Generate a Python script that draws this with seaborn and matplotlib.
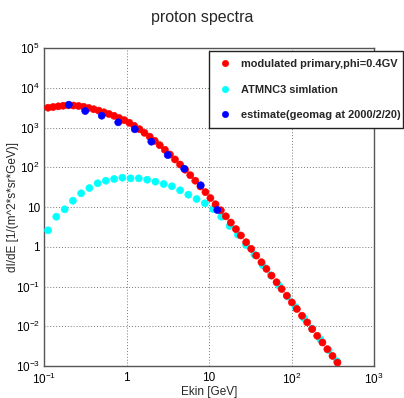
import numpy as np
import pandas as pd
import matplotlib
matplotlib.use("Agg")
import matplotlib.pyplot as plt
import seaborn as sns
from matplotlib.ticker import FixedLocator, FixedFormatter, LogLocator, NullFormatter

# ---------------- data ----------------
title = "proton spectra"
x_label = "Ekin [GeV]"
y_label = "dI/dE [1/(m^2*s*sr*GeV)]"

series_names = ["modulated primary,phi=0.4GV",
                "ATMNC3 simlation",
                "estimate(geomag at 2000/2/20)"]
series_colors = ["#ff0000", "#00ffff", "#0000ff"]

primary_E = [0.112, 0.129, 0.149, 0.171, 0.197, 0.227, 0.262, 0.302, 0.348, 0.401,
             0.461, 0.532, 0.612, 0.706, 0.815, 0.938, 1.08, 1.24, 1.44, 1.65,
             1.91, 2.20, 2.53, 2.92, 3.36, 3.87, 4.46, 5.14, 5.93, 6.82,
             7.87, 9.06, 10.4, 12.0, 13.9, 16.0, 18.4, 21.2, 24.4, 28.2,
             32.5, 37.4, 43.2, 49.7, 57.3, 65.9, 76.0, 87.7, 101, 116,
             134, 155, 178, 205, 237, 272, 314, 361]
primary_flux = [3150, 3280, 3410, 3530, 3610, 3570, 3480, 3320, 3100, 2880,
                2660, 2410, 2190, 1970, 1730, 1530, 1320, 1100, 906, 736,
                587, 462, 359, 275, 209, 157, 117, 86.7, 63.1, 45.9,
                32.8, 23.6, 16.8, 11.7, 8.26, 5.83, 4.06, 2.78, 1.92, 1.30,
                0.883, 0.600, 0.408, 0.277, 0.188, 0.128, 0.0865, 0.0588, 0.0398, 0.0272,
                0.0184, 0.0125, 0.00847, 0.00575, 0.00390, 0.00265, 0.00179, 0.00122]

atmnc_E = [0.112, 0.141, 0.178, 0.224, 0.282, 0.355, 0.447, 0.562, 0.708, 0.891,
           1.12, 1.41, 1.78, 2.24, 2.82, 3.55, 4.47, 5.62, 7.08, 8.91,
           11.2, 14.1, 17.8, 22.4, 28.2, 35.5, 44.7, 56.2, 70.8, 89.1,
           112, 141, 178, 224, 282, 355]
atmnc_flux = [2.59, 5.70, 8.74, 14.4, 22.1, 30.0, 39.5, 45.9, 50.6, 54.6,
              52.6, 52.6, 48.6, 43.4, 37.9, 33.2, 26.3, 20.4, 15.9, 12.4,
              8.91, 5.70, 3.33, 2.01, 1.11, 0.631, 0.347, 0.191, 0.105, 0.0562,
              0.0302, 0.0162, 0.00871, 0.00468, 0.00251, 0.00132]

estimate_E = [0.200, 0.316, 0.501, 0.794, 1.26, 2.00, 3.16, 5.01, 7.94, 12.6]
estimate_flux = [3750, 2600, 1980, 1350, 902, 440, 203, 92.0, 35.2, 8.41]

x_ticks = [0.1, 1, 10, 100, 1000]
x_tick_labels = [r"$\mathdefault{10^{-1}}$", "1", "10",
                 r"$\mathdefault{10^{2}}$", r"$\mathdefault{10^{3}}$"]
y_ticks = [1e-3, 1e-2, 1e-1, 1, 10, 1e2, 1e3, 1e4, 1e5]
y_tick_labels = [r"$\mathdefault{10^{-3}}$", r"$\mathdefault{10^{-2}}$",
                 r"$\mathdefault{10^{-1}}$", "1", "10",
                 r"$\mathdefault{10^{2}}$", r"$\mathdefault{10^{3}}$",
                 r"$\mathdefault{10^{4}}$", r"$\mathdefault{10^{5}}$"]

# drawing order: ATMNC3 underneath, primary, then estimate on top
df = pd.concat([
    pd.DataFrame({"E": atmnc_E, "flux": atmnc_flux, "series": series_names[1]}),
    pd.DataFrame({"E": primary_E, "flux": primary_flux, "series": series_names[0]}),
    pd.DataFrame({"E": estimate_E, "flux": estimate_flux, "series": series_names[2]}),
], ignore_index=True)

# ---------------- style ----------------
sns.set_style("white")
plt.rcParams["font.family"] = ["Liberation Sans", "DejaVu Sans"]
plt.rcParams["mathtext.fontset"] = "custom"
plt.rcParams["mathtext.rm"] = "Liberation Sans"

fig = plt.figure(figsize=(4.04, 3.98), dpi=100)
ax = fig.add_axes([44 / 404, 1 - 366 / 398, 330 / 404, 318 / 398])

sns.scatterplot(data=df, x="E", y="flux", hue="series",
                hue_order=series_names,
                palette=dict(zip(series_names, series_colors)),
                s=26, linewidth=0.4, edgecolor="face", ax=ax, legend=True,
                zorder=3)

ax.set_xscale("log")
ax.set_yscale("log")
ax.set_xlim(0.1, 1000)
ax.set_ylim(1e-3, 1e5)

ax.xaxis.set_major_locator(FixedLocator(x_ticks))
ax.xaxis.set_major_formatter(FixedFormatter(x_tick_labels))
ax.yaxis.set_major_locator(FixedLocator(y_ticks))
ax.yaxis.set_major_formatter(FixedFormatter(y_tick_labels))
ax.xaxis.set_minor_locator(LogLocator(base=10, subs=np.arange(2, 10), numticks=100))
ax.yaxis.set_minor_locator(LogLocator(base=10, subs=np.arange(2, 10), numticks=100))
ax.xaxis.set_minor_formatter(NullFormatter())
ax.yaxis.set_minor_formatter(NullFormatter())

ax.tick_params(which="both", direction="in", top=False, right=False,
               color="#333333", labelsize=8.5, labelcolor="black")
ax.tick_params(which="major", length=5, width=0.8)
ax.tick_params(which="minor", length=3, width=0.8)
ax.tick_params(axis="y", pad=3)
ax.tick_params(axis="x", pad=4)

ax.grid(True, which="major", color="#777777", linestyle=(0, (1, 2)), linewidth=0.7)
ax.set_axisbelow(True)
for sp in ax.spines.values():
    sp.set_color("#555555")
    sp.set_linewidth(1.0)

ax.set_xlabel(x_label, fontsize=8.5)
ax.xaxis.set_label_coords(0.5, -0.062)
ax.set_ylabel(y_label, fontsize=8.5)
ax.yaxis.set_label_coords(-0.075, 0.5)
fig.suptitle(title, y=1 - 10 / 398, va="top", fontsize=11.5)

handles, labels = ax.get_legend_handles_labels()
order = [labels.index(n) for n in series_names]
leg_top = 1 - 51 / 398
leg = ax.legend([handles[i] for i in order], [labels[i] for i in order],
                loc="upper left",
                bbox_to_anchor=(209 / 404, leg_top - 0.3, 1 - 209 / 404 - 0.003, 0.3),
                bbox_transform=fig.transFigure, mode="expand",
                prop={"weight": "bold", "size": 7.9},
                frameon=True, fancybox=False, edgecolor="#222222",
                framealpha=1, borderpad=0.75, labelspacing=1.4,
                handlelength=1.4, handletextpad=0.8, borderaxespad=0,
                markerscale=0.9)
leg.get_frame().set_linewidth(1.0)
leg.set_zorder(10)

fig.savefig("out.png", dpi=100)
